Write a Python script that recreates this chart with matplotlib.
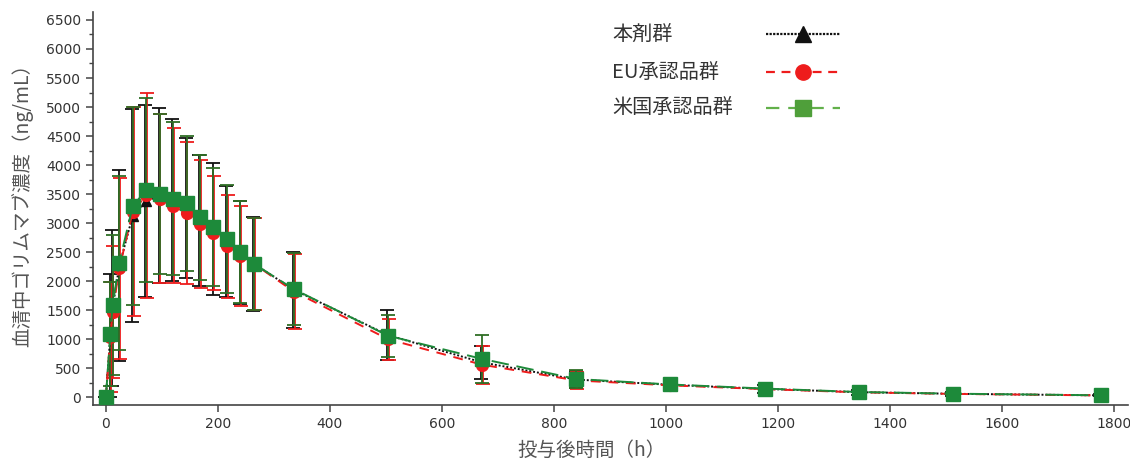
import matplotlib
matplotlib.use("Agg")
import matplotlib.pyplot as plt
from matplotlib.transforms import ScaledTranslation
from matplotlib.ticker import MultipleLocator

plt.rcParams["font.family"] = ["DejaVu Sans", "Noto Sans CJK JP"]
CJK = ["Noto Sans CJK JP", "DejaVu Sans"]

# sampling times (h)
hours = [0, 8, 12, 24, 48, 72, 96, 120, 144, 168, 192, 216, 240, 264, 336,
         504, 672, 840, 1008, 1176, 1344, 1512, 1776]

# 本剤群
test_mean = [0, 1070, 1540, 2270, 3130, 3380, 3470, 3400, 3260, 3050, 2900, 2680,
             2490, 2300, 1850, 1070, 600, 305, 215, 145, 88, 60, 33]
test_sd = [0, 1060, 1350, 1650, 1830, 1660, 1510, 1400, 1200, 1130, 1130, 960,
           890, 810, 650, 430, 280, 150, 95, 70, 45, 30, 18]

# EU承認品群
eu_mean = [0, 1040, 1470, 2220, 3200, 3480, 3420, 3300, 3170, 2990, 2830, 2600,
           2440, 2300, 1820, 1000, 560, 290, 205, 140, 85, 58, 32]
eu_sd = [0, 950, 1130, 1560, 1800, 1770, 1460, 1340, 1220, 1100, 980, 890,
         860, 790, 650, 355, 330, 140, 90, 65, 42, 28, 16]

# 米国承認品群
us_mean = [0, 1090, 1590, 2320, 3295, 3570, 3500, 3420, 3340, 3100, 2930, 2720,
           2500, 2300, 1860, 1060, 660, 315, 220, 150, 91, 62, 34]
us_sd = [0, 900, 1200, 1500, 1700, 1580, 1380, 1320, 1160, 1080, 1020, 930,
         880, 790, 620, 360, 410, 150, 95, 70, 45, 30, 18]

labels = ["本剤群", "EU承認品群", "米国承認品群"]

GREY = "#555555"
AX = "#444444"
BLACK = "#111111"
RED = "#ee1c1c"
GREEN = "#1d8a3a"
GREEN_BAR = "#2f6e25"
GREEN_LEG = "#62b04a"

fig = plt.figure(figsize=(11.3, 4.62), dpi=100)
ax = fig.add_axes([0.0823, 0.1234, 0.9160, 0.8506])

series = [
    (test_mean, test_sd, BLACK, BLACK, (0, (1, 1)), "^", 7, -0.8),
    (eu_mean, eu_sd, RED, RED, (0, (5, 4)), "o", 8.5, 0.8),
    (us_mean, us_sd, GREEN, GREEN_BAR, (0, (9, 4)), "s", 9.5, 0.0),
]
for mean, sd, c, cbar, ls, mk, ms, dx in series:
    off = ax.transData + ScaledTranslation(dx / 100, 0, fig.dpi_scale_trans)
    ax.errorbar(hours, mean, yerr=sd, fmt="none", ecolor=cbar, elinewidth=1.3,
                capsize=5, capthick=1.3, transform=off, zorder=2)
    ax.plot(hours, mean, color=c, ls=ls, lw=1.4, marker=mk, ms=ms,
            mec=c, mfc=c, zorder=3)

ax.set_xlim(-23, 1825)
ax.set_ylim(-133, 6637)
ax.xaxis.set_major_locator(MultipleLocator(200))
ax.yaxis.set_major_locator(MultipleLocator(500))
ax.yaxis.set_minor_locator(MultipleLocator(250))

for s in ["top", "right"]:
    ax.spines[s].set_visible(False)
for s in ["left", "bottom"]:
    ax.spines[s].set_color(AX)
    ax.spines[s].set_linewidth(1.2)
ax.tick_params(which="major", length=5, width=1.1, color=AX, labelsize=10,
               labelcolor="#333333", pad=3.5)
ax.tick_params(which="minor", length=3, width=1.0, color=AX)

ax.set_xlabel("投与後時間（h）", family=CJK, fontsize=14, color=GREY)
ax.xaxis.set_label_coords(0.482, -0.090)
ax.set_ylabel("血清中ゴリムマブ濃度（ng/mL）", family=CJK, fontsize=14, color=GREY,
              va="center")
ax.yaxis.set_label_coords(-0.068, 0.52)

# legend drawn by hand: text left, sample line right
rows = [0.944, 0.847, 0.756]
leg_style = [
    (BLACK, BLACK, (0, (1, 0.6)), "^", 11),
    (RED, RED, (0, (4, 3)), "o", 11),
    (GREEN_LEG, "#4f9f3a", (0, (6, 4)), "s", 11),
]
for lab, y, (lc, mc, ls, mk, ms) in zip(labels, rows, leg_style):
    ax.text(0.5014, y, lab, transform=ax.transAxes, family=CJK, fontsize=14.5,
            color="#333333", ha="left", va="center")
    ax.plot([0.650, 0.686, 0.722], [y, y, y], transform=ax.transAxes,
            color=lc, ls=ls, lw=1.6, marker=mk, ms=ms, mfc=mc, mec=mc,
            markevery=[1], clip_on=False)

fig.savefig("out.png", dpi=100)
